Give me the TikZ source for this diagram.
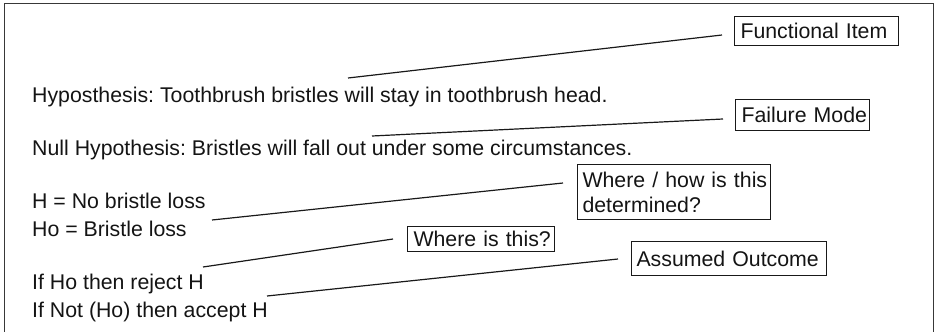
\documentclass[tikz,border=0pt]{standalone}
\usepackage{fontspec}
\setmainfont{Liberation Sans}
\frenchspacing
\begin{document}
\frenchspacing
\begin{tikzpicture}[x=1pt,y=-1pt,
  txt/.style={anchor=base west, inner sep=0pt, font=\fontsize{21.3}{25}\selectfont\frenchspacing, text=black!92},
  lbl/.style={draw=black!90, line width=1pt, anchor=north west, inner xsep=6pt, inner ysep=0pt, align=left, font=\fontsize{21.3}{25}\selectfont\frenchspacing, text=black!92},
  conn/.style={draw=black!90, line width=1.2pt},
  frame/.style={draw=black!78, line width=1.8pt}]
\useasboundingbox (0,0) rectangle (938,332);
\draw[frame] (4.5,334) -- (4.5,3.5) -- (933.5,3.5) -- (933.5,334);

% main text
\node[txt] (hyp)  at (32,102) {Hyposthesis: Toothbrush bristles will stay in toothbrush head.};
\node[txt] (null) at (32,155) {Null Hypothesis: Bristles will fall out under some circumstances.};
\node[txt] (h)    at (32,208) {H = No bristle loss};
\node[txt] (ho)   at (32,236) {Ho = Bristle loss};
\node[txt] (ifho) at (32,289) {If Ho then reject H};
\node[txt] (ifnot) at (32,317) {If Not (Ho) then accept H};

% labels
\node[lbl, text width=152pt, minimum height=29pt] (fi) at (734,16) {\mbox{Functional Item}};
\node[lbl, text width=122pt, minimum height=31pt] (fm) at (735,99) {\mbox{Failure Mode}};
\node[lbl, inner xsep=5pt, text width=183pt, minimum height=55pt] (wh) at (577,164) {\mbox{Where / how is this}\\\mbox{determined?}};
\node[lbl, text width=135pt, minimum height=25pt] (wi) at (407,226) {\mbox{Where is this?}};
\node[lbl, inner xsep=5pt, text width=185pt, minimum height=34pt] (ao) at (631,241) {\mbox{Assumed Outcome}};

% connector ends
\coordinate (c1a) at (348,78);  \coordinate (c1b) at (722,35);
\coordinate (c2a) at (372,136); \coordinate (c2b) at (723,119);
\coordinate (c3a) at (212,220); \coordinate (c3b) at (563,183);
\coordinate (c4a) at (203,267); \coordinate (c4b) at (393,239);
\coordinate (c5a) at (267,296); \coordinate (c5b) at (618,259);

\draw[conn] (c1a) -- (c1b);
\draw[conn] (c2a) -- (c2b);
\draw[conn] (c3a) -- (c3b);
\draw[conn] (c4a) -- (c4b);
\draw[conn] (c5a) -- (c5b);
\end{tikzpicture}
\end{document}
